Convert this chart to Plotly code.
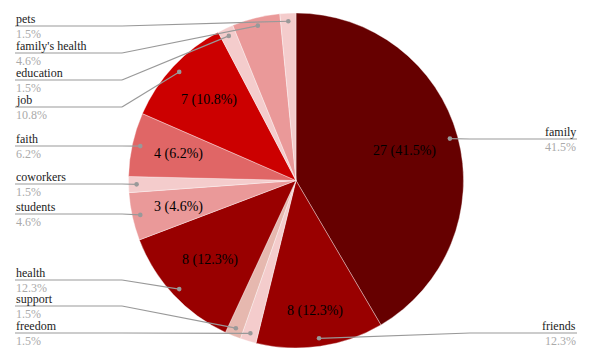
import math
import plotly.graph_objects as go

# ---- data ----
categories = ["family", "friends", "freedom", "support", "health", "students",
              "coworkers", "faith", "job", "education", "family's health", "pets"]
counts = [27, 8, 1, 1, 8, 3, 1, 4, 7, 1, 3, 1]

# ---- styles ----
colors = ["#660000", "#990000", "#f4cccc", "#e6b8af", "#990000", "#ea9999",
          "#f4cccc", "#e06666", "#cc0000", "#f4cccc", "#ea9999", "#f4cccc"]
show_inside = [True, True, False, False, True, True, False, True, True, False, False, False]
inside_radius = [0.67, 0.79, 0.7, 0.7, 0.70, 0.72, 0.7, 0.72, 0.71, 0.7, 0.7, 0.7]
label_side = ["R", "R", "L", "L", "L", "L", "L", "L", "L", "L", "L", "L"]
label_line_y = [139, 333, 333, 306, 280, 214, 184, 146, 107, 80, 53, 26]

W, H = 595, 364
CX, CY, R = 296.0, 180.5, 167.5
MT, MB = 13, 16
LEFT_X, RIGHT_X, ELBOW = 15, 577, 107
FONT = "Liberation Serif, Times New Roman, serif"
LINE_C = "#999999"

total = sum(counts)

fig = go.Figure()
fig.add_trace(go.Pie(
    labels=categories, values=counts, sort=False, direction="clockwise",
    rotation=0, marker=dict(colors=colors, line=dict(color="rgba(255,255,255,0.6)", width=0.6)),
    textinfo="none", hoverinfo="label+value+percent", showlegend=False,
    domain=dict(x=[(CX - R) / W, (CX + R) / W], y=[0, 1]),
))
# invisible trace to keep the pixel-coordinate axes alive
fig.add_trace(go.Scatter(x=[0, W], y=[MT, H - MB], mode="markers",
                         marker=dict(opacity=0), hoverinfo="skip", showlegend=False))

annotations = []
shapes = []
cum = 0
for i, (cat, v) in enumerate(zip(categories, counts)):
    mid = (cum + v / 2) / total * 2 * math.pi
    cum += v
    pct = v / total * 100
    sx, sy = math.sin(mid), -math.cos(mid)
    if show_inside[i]:
        rr = R * inside_radius[i]
        annotations.append(dict(
            x=CX + rr * sx, y=CY + rr * sy, xref="x", yref="y",
            text=f"{v} ({pct:.1f}%)", showarrow=False,
            font=dict(family=FONT, size=14, color="#000000"),
            xanchor="center", yanchor="middle"))
    # leader line
    px, py = CX + R * 0.952 * sx, CY + R * 0.952 * sy
    ly = label_line_y[i]
    if label_side[i] == "L":
        xs = [LEFT_X, LEFT_X + ELBOW, px]
        tx, anc = LEFT_X, "left"
    else:
        xs = [RIGHT_X, RIGHT_X - ELBOW, px]
        tx, anc = RIGHT_X, "right"
    ys = [ly, ly, py]
    for k in range(2):
        shapes.append(dict(type="line", xref="x", yref="y", layer="above",
                           x0=xs[k], y0=ys[k], x1=xs[k + 1], y1=ys[k + 1],
                           line=dict(color=LINE_C, width=1.2)))
    shapes.append(dict(type="circle", xref="x", yref="y", layer="above",
                       x0=px - 2.3, x1=px + 2.3, y0=py - 2.3, y1=py + 2.3,
                       fillcolor=LINE_C, line=dict(width=0)))
    annotations.append(dict(
        x=tx, y=ly - 7, xref="x", yref="y", text=cat, showarrow=False,
        font=dict(family=FONT, size=12, color="#222222"),
        xanchor=anc, yanchor="middle", borderpad=0))
    annotations.append(dict(
        x=tx, y=ly + 7.5, xref="x", yref="y", text=f"{pct:.1f}%", showarrow=False,
        font=dict(family=FONT, size=12, color="#aaaaaa"),
        xanchor=anc, yanchor="middle", borderpad=0))

fig.update_layout(
    width=W, height=H, margin=dict(l=0, r=0, t=MT, b=MB),
    paper_bgcolor="white", plot_bgcolor="rgba(0,0,0,0)",
    xaxis=dict(range=[0, W], visible=False, fixedrange=True),
    yaxis=dict(range=[H - MB, MT], visible=False, fixedrange=True),
    annotations=annotations, shapes=shapes,
)
fig.write_html("out.html")
